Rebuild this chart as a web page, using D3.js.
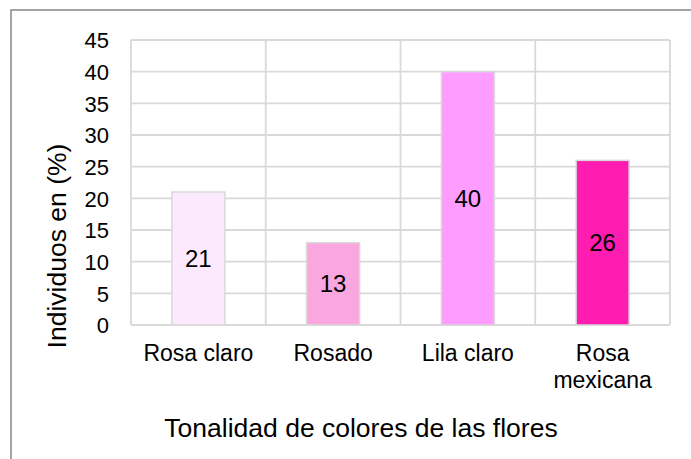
<!DOCTYPE html>
<html>
<head>
<meta charset="utf-8">
<script src="https://cdn.jsdelivr.net/npm/d3@7"></script>
<style>
  body { margin: 0; background: #fff; }
  text { font-family: 'Liberation Sans', Arial, sans-serif; fill: #000; }
</style>
</head>
<body>
<script>
// data
const categories = ['Rosa claro', 'Rosado', 'Lila claro', 'Rosa mexicana'];
const values = [21, 13, 40, 26];
const barColors = ['#fde9fd', '#faa7e0', '#ff9cff', '#ff1cb0'];
const yTicks = [0, 5, 10, 15, 20, 25, 30, 35, 40, 45];
const yTitle = 'Individuos en (%)';
const xTitle = 'Tonalidad de colores de las flores';

const drawChart = () => {
  const w = 691;
  const h = 459;
  const margin = { top: 40, right: 21, bottom: 134, left: 131, };
  const innerW = w - margin.left - margin.right;
  const innerH = h - margin.top - margin.bottom;

  const svg = d3.select('body')
    .append('svg')
    .attr('width', w)
    .attr('height', h);

  //outer chart border (cropped at right and bottom)
  svg.append('rect')
    .attr('x', 11)
    .attr('y', 10)
    .attr('width', w)
    .attr('height', h)
    .attr('fill', 'none')
    .attr('stroke', '#868686')
    .attr('stroke-width', 1.5);

  //scales
  const xScale = d3.scaleBand().domain(categories).range([0, innerW]).paddingInner(0).paddingOuter(0);
  const yScale = d3.scaleLinear().domain([0, 45]).range([innerH, 0]);

  const g = svg.append('g').attr('transform', `translate(${margin.left}, ${margin.top})`);

  //horizontal gridlines
  g.selectAll('.hgrid')
    .data(yTicks)
    .enter()
    .append('line')
    .attr('x1', 0)
    .attr('x2', innerW)
    .attr('y1', (d) => yScale(d))
    .attr('y2', (d) => yScale(d))
    .attr('stroke', '#d9d9d9')
    .attr('stroke-width', 1.8);

  //vertical gridlines at category boundaries
  const bounds = categories.map((c) => xScale(c)).concat([innerW]);
  g.selectAll('.vgrid')
    .data(bounds)
    .enter()
    .append('line')
    .attr('x1', (d) => d)
    .attr('x2', (d) => d)
    .attr('y1', 0)
    .attr('y2', innerH)
    .attr('stroke', '#d9d9d9')
    .attr('stroke-width', 1.8);

  //bars
  const barW = 53;
  g.selectAll('.bar')
    .data(values)
    .enter()
    .append('rect')
    .attr('x', (d, i) => xScale(categories[i]) + xScale.bandwidth() / 2 - barW / 2)
    .attr('y', (d) => yScale(d))
    .attr('width', barW)
    .attr('height', (d) => innerH - yScale(d))
    .attr('fill', (d, i) => barColors[i])
    .attr('stroke', '#d9d9d9')
    .attr('stroke-width', 1.5);

  //value labels in the middle of each bar
  g.selectAll('.val')
    .data(values)
    .enter()
    .append('text')
    .attr('x', (d, i) => xScale(categories[i]) + xScale.bandwidth() / 2)
    .attr('y', (d) => yScale(d / 2))
    .attr('dy', '0.36em')
    .attr('text-anchor', 'middle')
    .style('font-size', '24px')
    .text((d) => d);

  //y axis tick labels
  const yAxis = d3.axisLeft(yScale).tickValues(yTicks).tickSize(0).tickPadding(22);
  const yG = g.append('g').call(yAxis);
  yG.select('.domain').remove();
  yG.selectAll('text').style('font-size', '22px').attr('dy', '0.36em');

  //x axis category labels, wrapped
  const xG = g.append('g').attr('transform', `translate(0, ${innerH})`);
  categories.forEach((c) => {
    const lines = c === 'Rosa mexicana' ? ['Rosa', 'mexicana'] : [c];
    const t = xG.append('text')
      .attr('x', xScale(c) + xScale.bandwidth() / 2)
      .attr('y', 36)
      .attr('text-anchor', 'middle')
      .style('font-size', '23px');
    lines.forEach((l, i) => {
      t.append('tspan')
        .attr('x', xScale(c) + xScale.bandwidth() / 2)
        .attr('dy', i === 0 ? 0 : 27)
        .text(l);
    });
  });

  //axis titles
  svg.append('text')
    .attr('x', 361)
    .attr('y', 437)
    .attr('text-anchor', 'middle')
    .style('font-size', '26.5px')
    .text(xTitle);

  svg.append('text')
    .attr('transform', 'translate(66, 246) rotate(-90)')
    .attr('text-anchor', 'middle')
    .style('font-size', '26.5px')
    .text(yTitle);
};

drawChart();
</script>
</body>
</html>
